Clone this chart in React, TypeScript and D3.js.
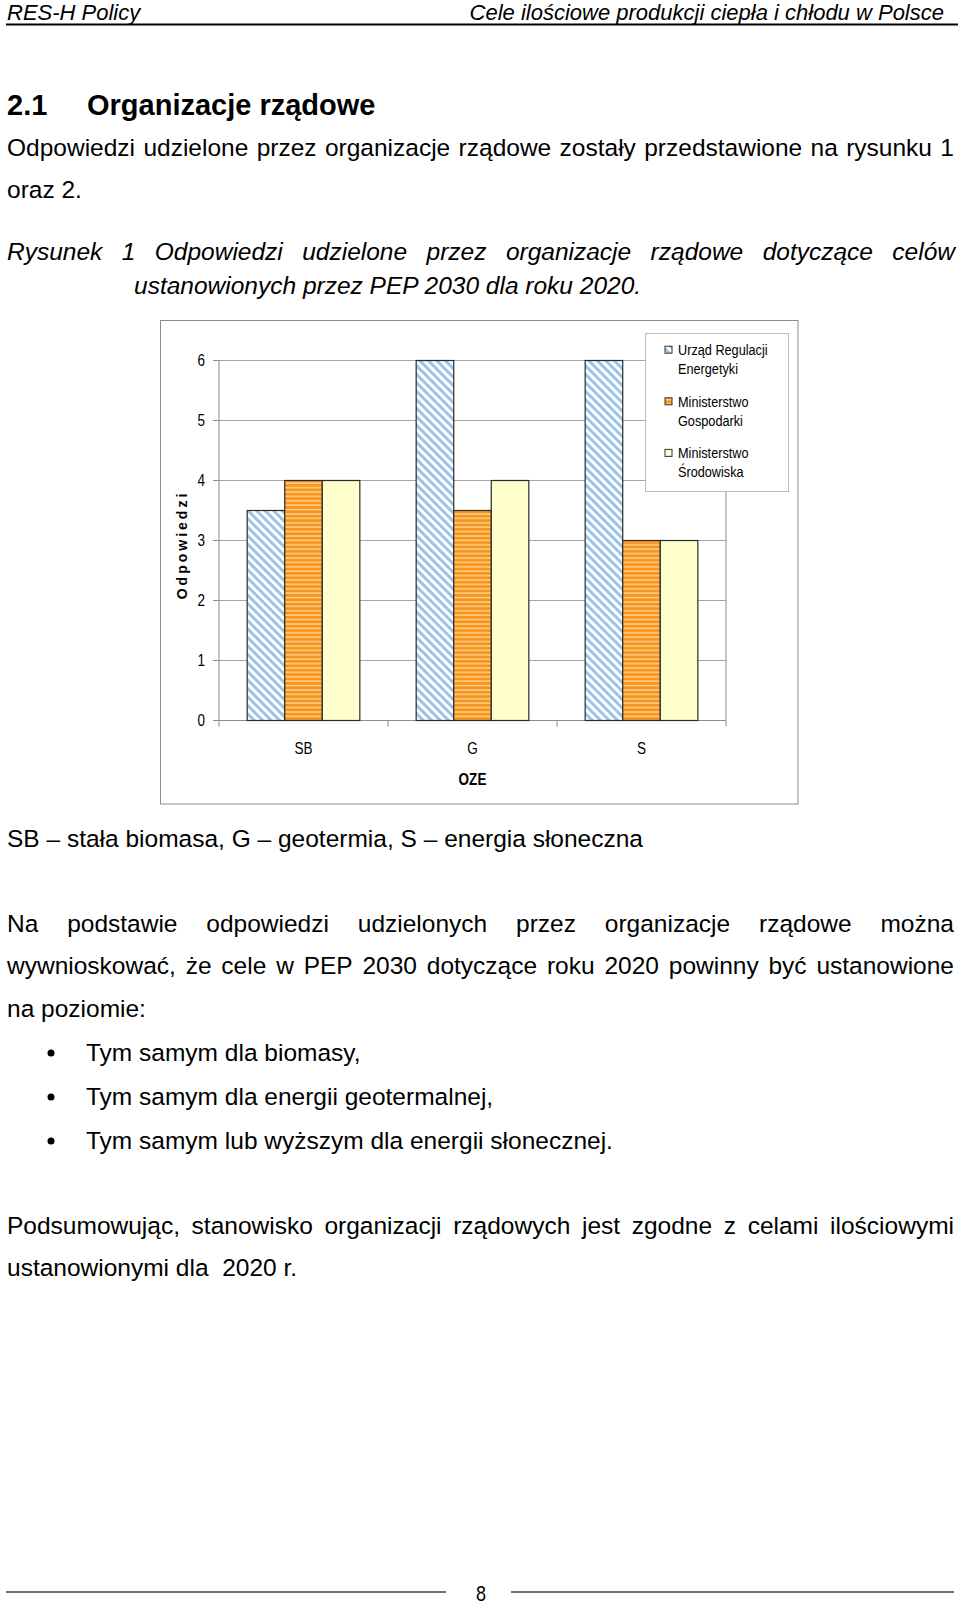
import React from "react";
import * as d3 from "d3";

const categories = ["SB", "G", "S"];
const seriesKeys = ["ure", "mg", "ms"];
const legendLines = [
  ["Urząd Regulacji", "Energetyki"],
  ["Ministerstwo", "Gospodarki"],
  ["Ministerstwo", "Środowiska"],
];
const ureValues = [3.5, 6, 6];
const mgValues = [4, 3.5, 3];
const msValues = [4, 4, 3];
const yTicks = [0, 1, 2, 3, 4, 5, 6];

const bulletItems = [
  "Tym samym dla biomasy,",
  "Tym samym dla energii geotermalnej,",
  "Tym samym lub wyższym dla energii słonecznej.",
];

const SANS = '"Liberation Sans", Arial, sans-serif';
const BODY = 24.5;

let ctx: CanvasRenderingContext2D | null = null;
function measure(text: string, font: string) {
  if (!ctx) ctx = document.createElement("canvas").getContext("2d");
  ctx!.font = font;
  return ctx!.measureText(text).width;
}

// one justified line: spread words between x0 and x1
function Justified({ text, x0, x1, y, size, italic = false }: any) {
  const font = `${italic ? "italic " : ""}${size}px "Liberation Sans"`;
  const words = text.split(" ");
  const widths = words.map((w: string) => measure(w, font));
  const gap = (x1 - x0 - d3.sum(widths)) / (words.length - 1);
  let x = x0;
  return (
    <text y={y} fontSize={size} fontFamily={SANS} fontStyle={italic ? "italic" : "normal"}>
      {words.map((w: string, i: number) => {
        const tx = x;
        x += widths[i] + gap;
        return (
          <tspan key={i} x={tx}>
            {w}
          </tspan>
        );
      })}
    </text>
  );
}

// condensed text (no narrow font installed, so squeeze horizontally)
function NText({ x, y, children, anchor = "start", size = 16, bold = false, dy }: any) {
  return (
    <text
      transform={`translate(${x},${y}) scale(0.82,1)`}
      textAnchor={anchor}
      fontSize={size}
      fontWeight={bold ? "bold" : "normal"}
      fontFamily={SANS}
      dy={dy}
    >
      {children}
    </text>
  );
}

function Chart() {
  const left = 219,
    right = 726,
    top = 360.5,
    bottom = 720.5;

  const x = d3.scaleBand().domain(categories).range([left, right]);
  const step = x.step();
  const inner = d3
    .scaleBand()
    .domain(seriesKeys)
    .range([step / 6, (step * 5) / 6]);
  const y = d3.scaleLinear().domain([0, 6]).range([bottom, top]);

  const data = categories.map((c, i) => ({
    cat: c,
    ure: ureValues[i],
    mg: mgValues[i],
    ms: msValues[i],
  }));
  const fills: Record<string, string> = {
    ure: "url(#diag)",
    mg: "url(#hstripe)",
    ms: "#FFFFCC",
  };

  return (
    <g>
      <defs>
        <pattern id="diag" patternUnits="userSpaceOnUse" width="6" height="6" patternTransform="rotate(-45)">
          <rect width="6" height="6" fill="#fff" />
          <rect width="3" height="6" fill="#9DC3E6" />
        </pattern>
        <pattern id="hstripe" patternUnits="userSpaceOnUse" width="8" height="4.4">
          <rect width="8" height="4.4" fill="#F7951E" />
          <rect y="2.8" width="8" height="1.6" fill="#FFCC80" />
        </pattern>
      </defs>
      <rect x={160.5} y={320.5} width={637.5} height={483.5} fill="#fff" stroke="#8c8c8c" />

      {yTicks.map((t) => (
        <g key={t}>
          {t > 0 && <line x1={left} x2={right} y1={y(t)} y2={y(t)} stroke="#a6a6a6" />}
          <line x1={left - 6} x2={left} y1={y(t)} y2={y(t)} stroke="#8c8c8c" />
          <NText x={205} y={y(t)} dy="0.36em" anchor="end" size={16.5}>
            {t}
          </NText>
        </g>
      ))}
      <line x1={left} x2={left} y1={top} y2={bottom} stroke="#8c8c8c" />
      <line x1={right} x2={right} y1={top} y2={bottom} stroke="#8c8c8c" />
      <line x1={left} x2={right} y1={bottom} y2={bottom} stroke="#8c8c8c" />
      {[...categories.map((c) => x(c)!), right].map((bx, i) => (
        <line key={i} x1={bx} x2={bx} y1={bottom} y2={bottom + 6} stroke="#8c8c8c" />
      ))}

      {data.map((d) => (
        <g key={d.cat} transform={`translate(${x(d.cat)},0)`}>
          {seriesKeys.map((k) => (
            <rect
              key={k}
              x={inner(k)}
              y={y((d as any)[k])}
              width={inner.bandwidth()}
              height={bottom - y((d as any)[k])}
              fill={fills[k]}
              stroke="#2a2a2a"
              strokeWidth={1.2}
            />
          ))}
          <NText x={step / 2} y={754} anchor="middle" size={16.5}>
            {d.cat}
          </NText>
        </g>
      ))}

      <NText x={(left + right) / 2} y={785} anchor="middle" size={16.5} bold>
        OZE
      </NText>
      <text
        transform="translate(187,545) rotate(-90)"
        textAnchor="middle"
        fontSize={14}
        fontWeight="bold"
        letterSpacing={3}
        fontFamily={SANS}
      >
        Odpowiedzi
      </text>

      <rect x={645.5} y={333.5} width={143} height={158} fill="#fff" stroke="#bdbdbd" />
      {legendLines.map((lines, i) => {
        const cy = 349.7 + i * 51.6;
        return (
          <g key={i}>
            <rect x={665} y={cy - 3.5} width={7} height={7} fill={fills[seriesKeys[i]]} stroke="#333" />
            {lines.map((l, j) => (
              <NText key={j} x={678} y={cy + 5.5 + j * 19} size={15.5}>
                {l}
              </NText>
            ))}
          </g>
        );
      })}
    </g>
  );
}

export default function App() {
  return (
    <svg
      width={960}
      height={1603}
      style={{ position: "absolute", left: 0, top: 0, background: "#fff" }}
    >
      <rect width={960} height={1603} fill="#fff" />
      <text x={7} y={20} fontSize={22} fontStyle="italic" fontFamily={SANS}>
        RES-H Policy
      </text>
      <text x={944} y={20} fontSize={22} fontStyle="italic" textAnchor="end" fontFamily={SANS}>
        Cele ilościowe produkcji ciepła i chłodu w Polsce
      </text>
      <line x1={6} x2={958} y1={24.5} y2={24.5} stroke="#000" strokeWidth={2} />

      <text y={115} fontSize={29} fontWeight="bold" fontFamily={SANS}>
        <tspan x={7}>2.1</tspan>
        <tspan x={87}>Organizacje rządowe</tspan>
      </text>

      <Justified
        text="Odpowiedzi udzielone przez organizacje rządowe zostały przedstawione na rysunku 1"
        x0={7}
        x1={954}
        y={156}
        size={BODY}
      />
      <text x={7} y={198} fontSize={BODY} fontFamily={SANS}>
        oraz 2.
      </text>

      <Justified
        text="Rysunek 1 Odpowiedzi udzielone przez organizacje rządowe dotyczące celów"
        x0={7}
        x1={955}
        y={260}
        size={BODY}
        italic
      />
      <text x={134} y={294} fontSize={BODY} fontStyle="italic" fontFamily={SANS}>
        ustanowionych przez PEP 2030 dla roku 2020.
      </text>

      <Chart />

      <text x={7} y={847} fontSize={BODY} fontFamily={SANS}>
        SB – stała biomasa, G – geotermia, S – energia słoneczna
      </text>

      <Justified
        text="Na podstawie odpowiedzi udzielonych przez organizacje rządowe można"
        x0={7}
        x1={954}
        y={932}
        size={BODY}
      />
      <Justified
        text="wywnioskować, że cele w PEP 2030 dotyczące roku 2020 powinny być ustanowione"
        x0={7}
        x1={954}
        y={974}
        size={BODY}
      />
      <text x={7} y={1017} fontSize={BODY} fontFamily={SANS}>
        na poziomie:
      </text>

      {bulletItems.map((b, i) => {
        const by = 1061 + i * 44;
        return (
          <g key={i}>
            <circle cx={51} cy={by - 8} r={3.5} fill="#000" />
            <text x={86} y={by} fontSize={BODY} fontFamily={SANS}>
              {b}
            </text>
          </g>
        );
      })}

      <Justified
        text="Podsumowując, stanowisko organizacji rządowych jest zgodne z celami ilościowymi"
        x0={7}
        x1={954}
        y={1234}
        size={BODY}
      />
      <text x={7} y={1276} fontSize={BODY} fontFamily={SANS} style={{ whiteSpace: "pre" }}>
        {"ustanowionymi dla  2020 r."}
      </text>

      <line x1={6} x2={446} y1={1592} y2={1592} stroke="#444" strokeWidth={1.6} />
      <line x1={511} x2={954} y1={1592} y2={1592} stroke="#444" strokeWidth={1.6} />
      <NText x={481} y={1601} anchor="middle" size={22}>
        8
      </NText>
    </svg>
  );
}
